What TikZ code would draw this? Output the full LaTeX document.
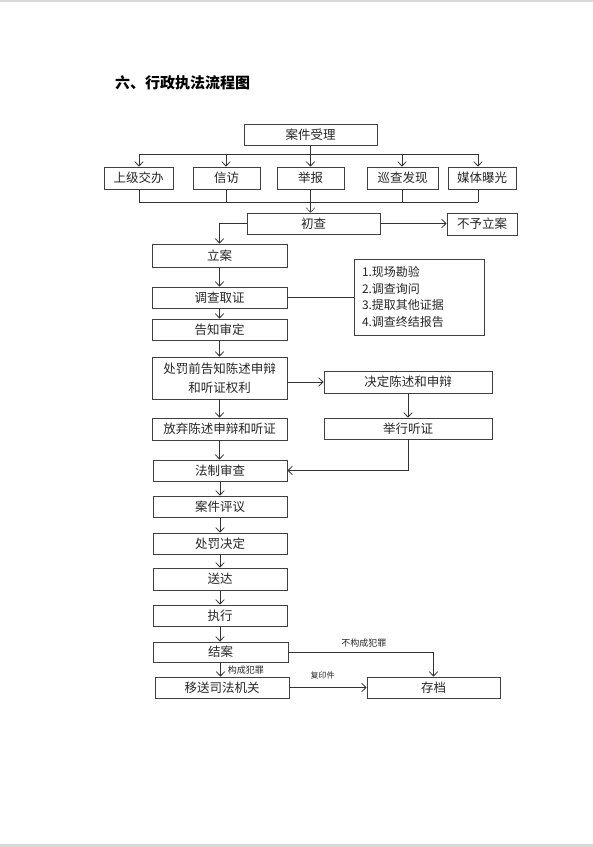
\documentclass[tikz,border=0pt]{standalone}
\usepackage{fontspec}
\newfontfamily\cjk{Noto Sans CJK SC}
\usetikzlibrary{arrows.meta}
\newcommand\mybox[6]{\node[box, minimum width={(#4-#2)*1pt}, minimum height={(#5-#3)*1pt}] (#1) at ({(#2+#4)/2},{(#3+#5)/2}) {#6};}
\begin{document}
\begin{tikzpicture}[x=1pt,y=-1pt,
  box/.style={draw=black!75, line width=0.7pt, rectangle, inner sep=0pt, align=center,
    font=\cjk\fontsize{12.5}{19}\selectfont, text=black!85},
  ln/.style={draw=black!80, line width=0.8pt},
  arr/.style={ln, -{Straight Barb[length=4.5pt,width=8.5pt]}},
  lbl/.style={font=\cjk\fontsize{9}{10}\selectfont, text=black!85, inner sep=0pt}
]
\fill[white] (0,0) rectangle (593,847);
\useasboundingbox (0,0) rectangle (593,847);
\fill[black!15] (0,0) rectangle (593,2);
\fill[black!15] (0,844) rectangle (593,847);

\node[anchor=west, inner sep=0pt, font=\cjk\bfseries\fontsize{15}{18}\selectfont] (title) at (115,83) {六、行政执法流程图};

\mybox{accept}{244}{124}{377}{145}{案件受理}
\mybox{sj}{104}{167}{173}{189}{上级交办}
\mybox{xf}{193}{167}{260}{189}{信访}
\mybox{jb}{277}{167}{344}{189}{举报}
\mybox{xc}{367}{167}{438}{189}{巡查发现}
\mybox{mt}{448}{167}{516}{189}{媒体曝光}
\mybox{cc}{247}{213}{380}{234}{初查}
\mybox{bylz}{447}{213}{517}{235}{不予立案}
\mybox{la}{152}{244}{287}{267}{立案}
\mybox{dcqz}{152}{287}{287}{308}{调查取证}
\mybox{gzsd}{152}{319}{287}{340}{告知审定}
\node[box, align=left, text width=114pt, inner xsep=8pt, minimum height=76pt,
  font=\cjk\fontsize{12}{16.4}\selectfont] (list) at (419,297)
  {1.现场勘验\\2.调查询问\\3.提取其他证据\\4.调查终结报告};
\mybox{cfq}{152}{357}{287}{399}{处罚前告知陈述申辩\\和听证权利}
\mybox{jdcs}{324}{371}{492}{393}{决定陈述和申辩}
\mybox{fq}{152}{418}{287}{440}{放弃陈述申辩和听证}
\mybox{jxtz}{324}{418}{492}{439}{举行听证}
\mybox{fzsc}{153}{460}{287}{481}{法制审查}
\mybox{ajpy}{153}{496}{287}{517}{案件评议}
\mybox{cfjd}{153}{533}{287}{554}{处罚决定}
\mybox{sd}{153}{568}{287}{590}{送达}
\mybox{zx}{153}{605}{287}{626}{执行}
\mybox{ja}{153}{642}{288}{662}{结案}
\mybox{ysjg}{155}{677}{289}{698}{移送司法机关}
\mybox{cd}{367}{677}{500}{698}{存档}

% distribution
\coordinate (t1) at (139,154);
\coordinate (t2) at (226,154);
\coordinate (t3) at (310.5,154);
\coordinate (t4) at (402,154);
\coordinate (t5) at (478,154);
\draw[ln] (accept.south) -- (t3);
\draw[ln] (t1) -- (t5);
\foreach \c/\b in {t1/sj,t2/xf,t3/jb,t4/xc,t5/mt}
  \draw[arr] (\c) -- (\c |- \b.north);
% collection
\coordinate (b1) at (139,202);
\coordinate (b2) at (226,202);
\coordinate (b3) at (310.5,202);
\coordinate (b4) at (402,202);
\coordinate (b5) at (478,202);
\draw[ln] (b1) -- (b5);
\foreach \c/\b in {b1/sj,b2/xf,b3/jb,b4/xc,b5/mt}
  \draw[ln] (\c |- \b.south) -- (\c);
\draw[arr, line width=0.5pt] (b3) -- (b3 |- cc.north);

\draw[arr] (cc.east) -- (cc.east -| bylz.west);
\draw[arr] (cc.west) -| (la.north);
\draw[arr] (la.south) -- (la.south |- dcqz.north);
\draw[ln] (dcqz.east) -- (dcqz.east -| list.west);
\draw[arr] (dcqz.south) -- (dcqz.south |- gzsd.north);
\draw[arr] (gzsd.south) -- (gzsd.south |- cfq.north);
\draw[arr] (cfq.east |- jdcs.west) -- (jdcs.west);
\draw[arr] (jdcs.south) -- (jxtz.north);
\draw[arr] (cfq.south) -- (cfq.south |- fq.north);
\draw[arr] (fq.south) -- (fq.south |- fzsc.north);
\draw[arr] (jxtz.south) |- (fzsc.east);
\draw[arr] (fzsc.south) -- (fzsc.south |- ajpy.north);
\draw[arr] (ajpy.south) -- (ajpy.south |- cfjd.north);
\draw[arr] (cfjd.south) -- (cfjd.south |- sd.north);
\draw[arr] (sd.south) -- (sd.south |- zx.north);
\draw[arr] (zx.south) -- (zx.south |- ja.north);
\draw[arr] (ja.east) -| node[lbl, pos=0.26, above=9pt, anchor=center] {不构成犯罪} (cd.north);
\draw[arr] (ja.south) -- node[lbl, right, xshift=7pt, yshift=-1pt] {构成犯罪} (ja.south |- ysjg.north);
\draw[arr] (ysjg.east) -- node[lbl, pos=0.43, font=\cjk\fontsize{8}{9}\selectfont, yshift=12pt] {复印件} (ysjg.east -| cd.west);
\end{tikzpicture}
\end{document}
